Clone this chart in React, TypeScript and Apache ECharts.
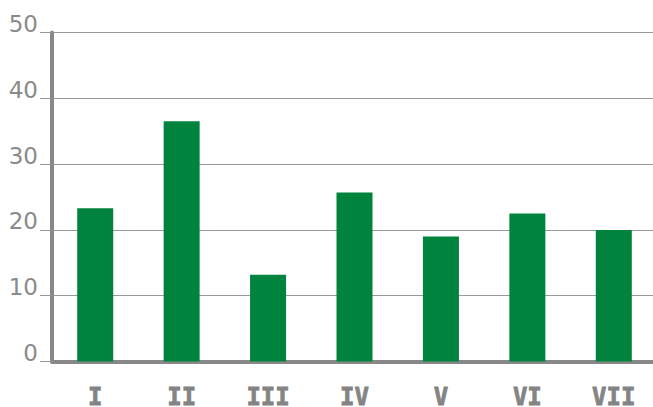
import React, { useEffect, useRef } from "react";
import * as echarts from "echarts";

const categories = ["I", "II", "III", "IV", "V", "VI", "VII"];
const values = [23.3, 36.5, 13.2, 25.7, 19.0, 22.5, 20.0];
const yMin = 0;
const yMax = 50;
const yInterval = 10;

export default function App() {
  const ref = useRef<HTMLDivElement>(null);
  useEffect(() => {
    if (!ref.current) return;
    const chart = echarts.init(ref.current, undefined, { renderer: "svg" });
    chart.setOption({
      animation: false,
      grid: {
        left: 52,
        top: 32.5,
        width: 605,
        height: 329,
        containLabel: false,
        outerBoundsMode: "none",
      },
      xAxis: {
        type: "category",
        data: categories,
        axisLine: { show: true, lineStyle: { color: "#888888", width: 4 } },
        axisTick: { show: false },
        axisLabel: {
          color: "#848484",
          fontFamily: "DejaVu Sans Mono",
          fontWeight: "bold",
          fontSize: 24,
          margin: 26,
          verticalAlign: "top",
          lineHeight: 18,
          textBorderColor: "#848484",
          textBorderWidth: 0.8,
        },
        splitLine: { show: false },
      },
      yAxis: {
        type: "value",
        min: yMin,
        max: yMax,
        interval: yInterval,
        axisLine: { show: true, lineStyle: { color: "#888888", width: 4 } },
        axisTick: { show: true, length: 12, lineStyle: { color: "#999999", width: 1 } },
        axisLabel: {
          color: "#8a8a8a",
          fontFamily: "DejaVu Sans",
          fontSize: 23,
          margin: 14,
          align: "right",
          verticalAlign: "bottom",
          lineHeight: 17,
        },
        splitLine: { show: true, lineStyle: { color: "#999999", width: 1 } },
      },
      series: [
        {
          type: "bar",
          data: values,
          barWidth: 36,
          itemStyle: { color: "#00843d" },
        },
      ],
    });
    return () => chart.dispose();
  }, []);
  return <div ref={ref} style={{ width: 653, height: 407, position: "absolute", left: 0, top: 0 }} />;
}
